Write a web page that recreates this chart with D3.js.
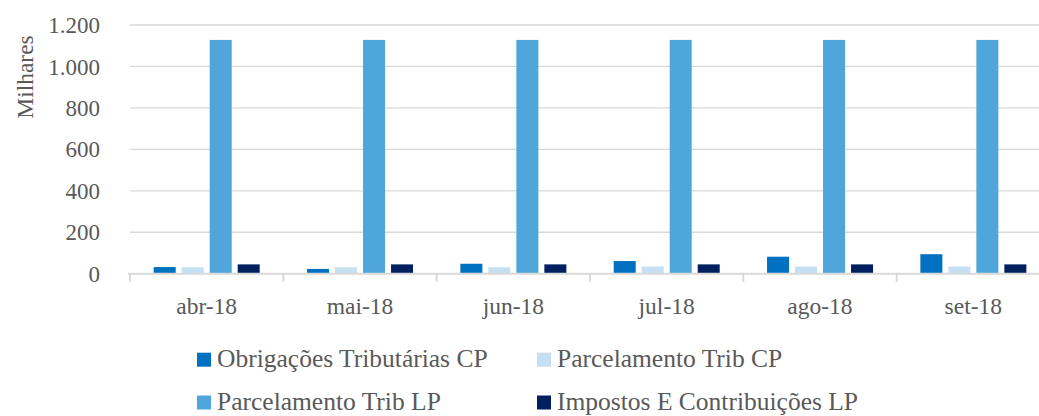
<!DOCTYPE html>
<html><head><meta charset="utf-8">
<script src="https://cdn.jsdelivr.net/npm/d3@7"></script>
<style>
html,body{margin:0;padding:0;background:#fff;}
</style></head>
<body><svg id="c" width="1039" height="416" font-family="Liberation Serif, Times New Roman, serif"></svg>
<script>
const categories = ["abr-18","mai-18","jun-18","jul-18","ago-18","set-18"];
const seriesNames = ["Obrigações Tributárias CP","Parcelamento Trib CP","Parcelamento Trib LP","Impostos E Contribuições LP"];
const obrigacoesCP = [32, 23, 48, 61, 82, 94];
const parcelamentoCP = [31, 31, 31, 35, 35, 35];
const parcelamentoLP = [1128, 1128, 1128, 1128, 1128, 1128];
const impostosLP = [45, 45, 45, 45, 45, 45];
const yTicks = [0, 200, 400, 600, 800, 1000, 1200];
const colors = ["#0070c0", "#c5e0f3", "#4fa6da", "#002060"];

const FONT = "'Liberation Serif', 'Times New Roman', serif";
const TXT = "#595959";
const seriesValues = [obrigacoesCP, parcelamentoCP, parcelamentoLP, impostosLP];
const svg = d3.select("#c");
const x = d3.scaleBand().domain(categories).range([130, 1050]);
const xs = d3.scaleBand().domain(d3.range(4)).range([23.7, 129.7]).paddingInner(0.214);
const y = d3.scaleLinear().domain([0, 1200]).range([273.7, 25]);
const fmt = d3.formatLocale({decimal: ",", thousands: ".", grouping: [3], currency: ["", ""]}).format(",d");

// gridlines
svg.append("g").selectAll("line").data(yTicks.filter(d => d > 0)).join("line")
  .attr("x1", 130).attr("x2", 1039)
  .attr("y1", d => y(d)).attr("y2", d => y(d))
  .attr("stroke", "#d9d9d9").attr("stroke-width", 1.3);

// y tick labels
svg.append("g").selectAll("text").data(yTicks).join("text")
  .attr("x", 100).attr("y", d => y(d)).attr("dy", "0.35em")
  .attr("text-anchor", "end").style("font-family", FONT).style("fill", TXT).style("font-size", "23px")
  .text(d => fmt(d));

// y title
svg.append("text").attr("transform", "translate(33,77) rotate(-90)")
  .attr("text-anchor", "middle").style("font-family", FONT).style("fill", TXT).style("font-size", "23.5px").text("Milhares");

// bars
const groups = svg.append("g").selectAll("g").data(categories).join("g")
  .attr("transform", c => `translate(${x(c)},0)`);
groups.selectAll("rect").data((c, i) => seriesValues.map((s, k) => ({k, v: s[i]}))).join("rect")
  .attr("x", d => xs(d.k)).attr("width", xs.bandwidth())
  .attr("y", d => y(d.v)).attr("height", d => y(0) - y(d.v))
  .attr("fill", d => colors[d.k]);

// x axis line and ticks
svg.append("line").attr("x1", 128).attr("x2", 1039).attr("y1", y(0)).attr("y2", y(0))
  .attr("stroke", "#d9d9d9").attr("stroke-width", 2);
const bounds = categories.map(c => x(c)).concat([x(categories[5]) + x.bandwidth()]);
svg.append("g").selectAll("line").data(bounds).join("line")
  .attr("x1", d => d).attr("x2", d => d).attr("y1", y(0)).attr("y2", y(0) + 8)
  .attr("stroke", "#d9d9d9").attr("stroke-width", 2);
svg.append("g").selectAll("text").data(categories).join("text")
  .attr("x", c => x(c) + x.bandwidth() / 2).attr("y", 314)
  .attr("text-anchor", "middle").style("font-family", FONT).style("fill", TXT).style("font-size", "23.5px").text(c => c);

// legend
const legPos = [[197, 366.7], [537, 366.7], [197, 409.5], [537, 409.5]];
const leg = svg.append("g").selectAll("g").data(seriesNames).join("g")
  .attr("transform", (d, i) => `translate(${legPos[i][0]},${legPos[i][1]})`);
leg.append("rect").attr("x", 0).attr("y", -14).attr("width", 14).attr("height", 14)
  .attr("fill", (d, i) => colors[i]);
leg.append("text").attr("x", 20).attr("y", 0).style("font-family", FONT).style("fill", TXT).style("font-size", "25.5px").text(d => d);
</script></body></html>
